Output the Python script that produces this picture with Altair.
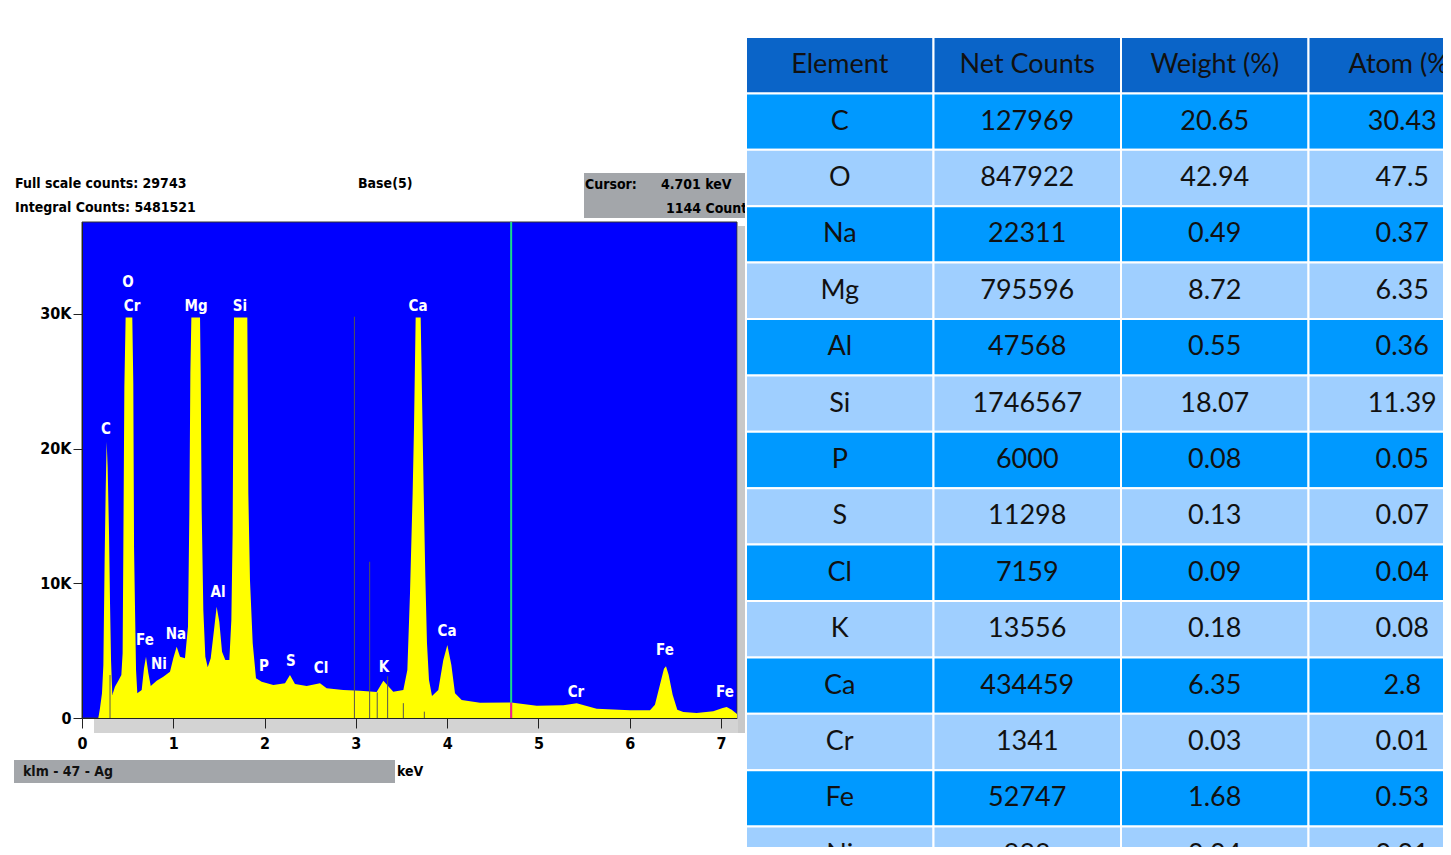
import altair as alt
import pandas as pd

# ---------------- spectrum ----------------
kev = [0.00, 0.179, 0.197, 0.219, 0.234, 0.248, 0.259, 0.270, 0.281, 0.296, 0.307, 0.318, 0.332, 0.361, 0.398,
       0.431, 0.445, 0.453, 0.464, 0.478, 0.551, 0.562, 0.570, 0.581, 0.592, 0.606, 0.654, 0.679, 0.701, 0.727,
       0.753, 0.818, 0.891, 0.964, 1.000, 1.037, 1.074, 1.128, 1.161, 1.176, 1.187, 1.198, 1.293, 1.300, 1.311,
       1.329, 1.351, 1.377, 1.410, 1.446, 1.475, 1.504, 1.534, 1.570, 1.614, 1.636, 1.650, 1.661, 1.665, 1.811,
       1.822, 1.840, 1.870, 1.906, 1.968, 2.096, 2.224, 2.278, 2.333, 2.461, 2.607, 2.680, 2.862, 3.045, 3.228,
       3.301, 3.410, 3.520, 3.564, 3.593, 3.622, 3.637, 3.655, 3.710, 3.724, 3.743, 3.761, 3.779, 3.801, 3.834,
       3.903, 3.958, 4.002, 4.046, 4.086, 4.159, 4.360, 4.701, 4.981, 5.273, 5.419, 5.638, 6.003, 6.222, 6.276,
       6.331, 6.375, 6.397, 6.426, 6.470, 6.521, 6.587, 6.733, 6.915, 7.018, 7.062, 7.117, 7.175]
counts = [0, 0, 720, 1834, 3936, 11733, 16686, 20518, 18662, 13715, 8517, 4307, 1708, 2325, 2773,
          3193, 4801, 12724, 24603, 29743, 29743, 24855, 12724, 8020, 3564, 1834, 2079, 3690, 4553, 3317,
          2376, 2773, 3069, 3441, 4431, 5295, 4553, 4431, 6783, 15199, 25598, 29743, 29743, 25598, 15446,
          8020, 4553, 3762, 4431, 6535, 8265, 7151, 4924, 4307, 4307, 7277, 13715, 26585, 29743, 29743,
          16686, 10248, 5547, 2948, 2696, 2451, 2575, 3193, 2525, 2376, 2575, 2203, 2079, 2029, 1931,
          2773, 1956, 2079, 3564, 9258, 16686, 21634, 29743, 29743, 24112, 16686, 10495, 5547, 2822, 1634,
          2079, 4307, 5421, 3936, 1834, 1337, 1139, 1144, 916, 941, 1089, 693, 569, 569, 990,
          2475, 3663, 3836, 3217, 1733, 619, 446, 371, 495, 743, 817, 619, 297]

peak_labels = ["C", "O", "Cr", "Fe", "Ni", "Na", "Mg", "Al", "Si", "P", "S", "Cl", "K", "Ca", "Ca", "Cr", "Fe", "Fe"]
peak_kev = [0.263, 0.504, 0.548, 0.690, 0.843, 1.030, 1.249, 1.490, 1.731, 1.994, 2.289, 2.618, 3.308, 3.681,
            3.998, 5.411, 6.386, 7.043]
peak_cnt = [21460, 32380, 30600, 5790, 4010, 6240, 30600, 9360, 30600, 3860, 4230, 3710, 3790, 30600,
            6460, 1930, 5050, 1930]

marker_kev = [0.307, 2.984, 3.151, 3.234, 3.348, 3.520, 3.750]
marker_top = [3190, 29800, 11600, 1900, 3100, 1100, 470]

cursor_kev = 4.701
cursor_counts = 1144
x_ticks = [0, 1, 2, 3, 4, 5, 6, 7]
y_ticks = [0, 10000, 20000, 30000]
XMAX = 7.175
YMAX = 36830

# ---------------- table ----------------
headers = ["Element", "Net Counts", "Weight (%)", "Atom (%)"]
elements = ["C", "O", "Na", "Mg", "Al", "Si", "P", "S", "Cl", "K", "Ca", "Cr", "Fe", "Ni"]
net_counts = [127969, 847922, 22311, 795596, 47568, 1746567, 6000, 11298, 7159, 13556, 434459, 1341, 52747, 988]
weight_pct = [20.65, 42.94, 0.49, 8.72, 0.55, 18.07, 0.08, 0.13, 0.09, 0.18, 6.35, 0.03, 1.68, 0.04]
atom_pct = [30.43, 47.5, 0.37, 6.35, 0.36, 11.39, 0.05, 0.07, 0.04, 0.08, 2.8, 0.01, 0.53, 0.01]

NARROW = "DejaVu Sans Condensed, Roboto, sans-serif"
TABFONT = "Lato"
W, H = 1435, 839

spec_df = pd.DataFrame({"kev": kev, "cnt": counts})
lab_df = pd.DataFrame({"kev": peak_kev, "cnt": peak_cnt, "lab": peak_labels})
mk_df = pd.DataFrame({"kev": marker_kev, "cnt": [0] * len(marker_kev), "cnt2": marker_top})
bg_df = pd.DataFrame({"kev": [0], "kev2": [XMAX], "cnt": [0], "cnt2": [YMAX]})
cur_df = pd.DataFrame({"kev": [cursor_kev], "cnt": [0], "cnt2": [YMAX], "low": [cursor_counts]})
one = pd.DataFrame({"a": [0]})

xs = alt.Scale(domain=[0, XMAX], range=[74, 729], nice=False, zero=False)
ys = alt.Scale(domain=[0, YMAX], range=[710, 214], nice=False, zero=False)
x_axis = alt.Axis(values=x_ticks, format="d", offset=-(H - 710), tickSize=10, tickColor="#222222",
                  domainColor="#222222", labelFont=NARROW, labelFontWeight="bold", labelFontSize=16,
                  labelColor="black", labelPadding=7, grid=False, zindex=1, labelFlush=False, title=None)
y_axis = alt.Axis(values=y_ticks, labelExpr="datum.value == 0 ? '0' : format(datum.value/1000, 'd') + 'K'",
                  offset=-74, tickSize=9, tickColor="#222222", domainColor="#222222", labelFont=NARROW,
                  labelFontWeight="bold", labelFontSize=16, labelColor="black", labelPadding=2, grid=False,
                  zindex=1, title=None)
X = alt.X("kev:Q", scale=xs, axis=x_axis)
Y = alt.Y("cnt:Q", scale=ys, axis=y_axis)

shadow_b = alt.Chart(one).mark_rect(color="#d3d3d3").encode(
    x=alt.value(86), x2=alt.value(737), y=alt.value(711), y2=alt.value(725))
shadow_r = alt.Chart(one).mark_rect(color="#c8c8c8").encode(
    x=alt.value(730), x2=alt.value(737), y=alt.value(218), y2=alt.value(725))
bg = alt.Chart(bg_df).mark_rect(color="#0000FF", stroke="#333333", strokeWidth=1).encode(
    x=X, x2="kev2:Q", y=Y, y2="cnt2:Q")
area = alt.Chart(spec_df).mark_area(color="#FFFF00", interpolate="linear", clip=True).encode(x=X, y=Y)
markers = alt.Chart(mk_df).mark_rule(color="#555555", strokeWidth=1).encode(x=X, y=Y, y2="cnt2:Q")
cursor = alt.Chart(cur_df).mark_rule(color="#19d98a", strokeWidth=2).encode(x=X, y=Y, y2="cnt2:Q")
cursor_low = alt.Chart(cur_df).mark_rule(color="#ff1a8c", strokeWidth=2).encode(x=X, y=Y, y2="low:Q")
peaks = alt.Chart(lab_df).mark_text(color="white", font=NARROW, fontWeight="bold", fontSize=15,
                                    baseline="middle", align="center").encode(x=X, y=Y, text="lab:N")

def note(txt, x, y, size=14, color="black"):
    return alt.Chart(one).mark_text(align="left", baseline="middle", font=NARROW, fontWeight="bold",
                                    fontSize=size, color=color).encode(
        x=alt.value(x), y=alt.value(y), text=alt.value(txt))

cursor_box = alt.Chart(one).mark_rect(color="#a3a6aa").encode(
    x=alt.value(576), x2=alt.value(738), y=alt.value(165), y2=alt.value(210))
bottom_bar = alt.Chart(one).mark_rect(color="#a3a6aa").encode(
    x=alt.value(6), x2=alt.value(387), y=alt.value(752), y2=alt.value(775))

notes = [
    note("Full scale counts: 29743", 7, 176),
    note("Integral Counts: 5481521", 7, 200),
    note("Base(5)", 350, 176),
    cursor_box,
    note("Cursor:", 577, 177),
    note("4.701 keV", 653, 177),
    note("1144 Counts", 658, 201),
    bottom_bar,
    note("klm - 47 - Ag", 15, 764, color="#111111"),
    note("keV", 389, 764),
]

spectrum = alt.layer(shadow_b, shadow_r, bg, area, markers, cursor, cursor_low, peaks, *notes)

# ---- table data ----
recs = []
for j, h in enumerate(headers):
    recs.append({"row": 0, "col": h, "txt": h, "kind": "header"})
for i, el in enumerate(elements):
    kind = "odd" if i % 2 == 0 else "even"
    vals = [el, str(net_counts[i]), str(weight_pct[i]), str(atom_pct[i])]
    for h, v in zip(headers, vals):
        recs.append({"row": i + 1, "col": h, "txt": v, "kind": kind})
tab_df = pd.DataFrame(recs)

tx = alt.X("col:N", sort=headers, scale=alt.Scale(domain=headers, range=[738, 1488], paddingInner=0,
                                                  paddingOuter=0), axis=None)
ty = alt.Y("row:O", scale=alt.Scale(domain=list(range(15)), range=[29, 875], paddingInner=0,
                                    paddingOuter=0), axis=None)
cells = alt.Chart(tab_df).mark_rect(stroke="white", strokeWidth=2, clip=True).encode(
    x=tx, y=ty,
    color=alt.Color("kind:N", scale=alt.Scale(domain=["header", "odd", "even"],
                                              range=["#0a64c8", "#0099ff", "#9fcfff"]), legend=None))
cell_txt = alt.Chart(tab_df).mark_text(font=TABFONT, fontSize=27, color="#111111", baseline="middle",
                                       align="center", clip=True).encode(x=tx, y=ty, text="txt:N")
table = alt.layer(cells, cell_txt)

chart = alt.layer(spectrum, table).resolve_scale(x="independent", y="independent").properties(
    width=W, height=H, autosize=alt.AutoSizeParams(type="none"), padding=0, background="white"
).configure_view(stroke=None)

chart.save("out.html", embed_options={"renderer": "svg", "actions": False})
